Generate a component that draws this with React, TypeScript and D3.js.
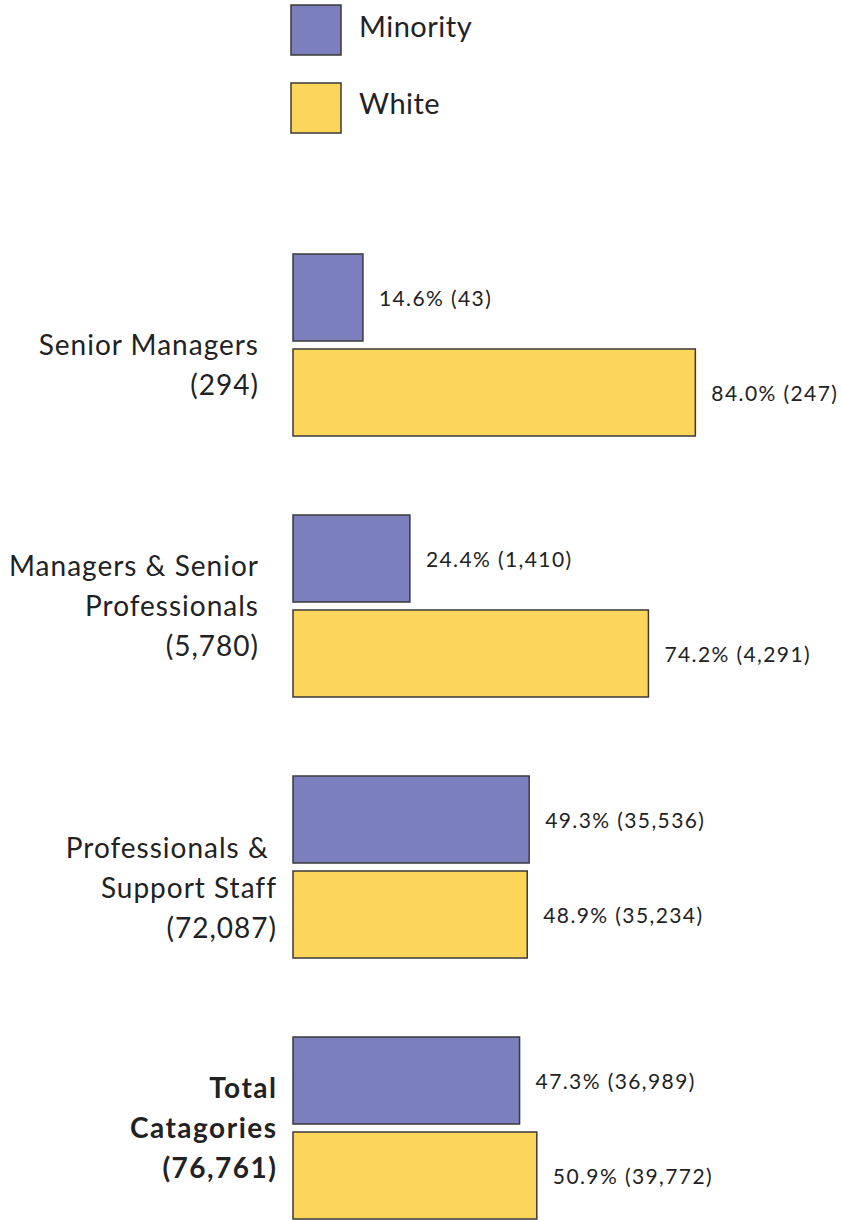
import React from "react";
import * as d3 from "d3";

const categories = ["Senior Managers", "Managers & Senior Professionals", "Professionals & Support Staff", "Total Catagories"];
const categoryLines = [
  ["", "Senior Managers", "(294)"],
  ["Managers & Senior", "Professionals", "(5,780)"],
  ["Professionals & ", "Support Staff", "(72,087)"],
  ["Total", "Catagories", "(76,761)"],
];
const series = ["Minority", "White"];
const minorityPct = [14.6, 24.4, 49.3, 47.3];
const minorityCount = ["43", "1,410", "35,536", "36,989"];
const whitePct = [84.0, 74.2, 48.9, 50.9];
const whiteCount = ["247", "4,291", "35,234", "39,772"];

const colors: Record<string, string> = { Minority: "#7b7fbd", White: "#fcd55b" };
const FONT = "Lato, 'Noto Sans', sans-serif";
const labelRight = [258, 258, 276, 276];
const labelShift = [0, 0, 21, 0];
const boldLabel = [false, false, false, true];

export default function App() {
  const W = 841, H = 1220;
  const x = d3.scaleLinear().domain([0, 100]).range([293, 293 + 479]);
  const y = d3.scaleBand<string>().domain(categories).range([254, 1219]).paddingInner(0.3027).paddingOuter(0);
  const sub = d3.scaleBand<string>().domain(series).range([0, y.bandwidth()]).paddingInner(0.0842).paddingOuter(0);

  const values: Record<string, number[]> = { Minority: minorityPct, White: whitePct };
  const counts: Record<string, string[]> = { Minority: minorityCount, White: whiteCount };

  return (
    <svg width={W} height={H} style={{ position: "absolute", left: 0, top: 0 }} fontFamily={FONT}>
      <rect x={0} y={0} width={W} height={H} fill="#fff" />
      {series.map((s, i) => (
        <g key={s}>
          <rect x={291} y={5 + i * 78} width={50} height={50} fill={colors[s]} stroke="#3a3a3a" strokeWidth={1.5} />
          <text x={359} y={37 + i * 77} fontSize={29} letterSpacing={0.5} fill="#222">{s}</text>
        </g>
      ))}
      {categories.map((c, ci) => {
        const y0 = y(c)!;
        const center = y0 + y.bandwidth() / 2 + labelShift[ci];
        const lines = categoryLines[ci];
        const ls = boldLabel[ci] ? 1.5 : 1;
        return (
          <g key={c}>
            {lines.map((ln, li) => (
              <text key={li} x={labelRight[ci] + ls} y={center + (li - 1) * 40} dy="0.36em" textAnchor="end"
                fontSize={28} letterSpacing={ls} fontWeight={boldLabel[ci] ? 700 : 400} fill="#222" style={{ whiteSpace: "pre" }}>
                {ln}
              </text>
            ))}
            {series.map((s) => {
              const v = values[s][ci];
              const by = y0 + sub(s)!;
              return (
                <g key={s}>
                  <rect x={x(0)} y={by} width={x(v) - x(0)} height={sub.bandwidth()} fill={colors[s]} stroke="#3a3a3a" strokeWidth={1.5} />
                  <text x={x(v) + 16} y={by + sub.bandwidth() / 2 + 1} dy="0.35em" fontSize={21} letterSpacing={1.4} fill="#222">
                    {`${v.toFixed(1)}% (${counts[s][ci]})`}
                  </text>
                </g>
              );
            })}
          </g>
        );
      })}
    </svg>
  );
}
